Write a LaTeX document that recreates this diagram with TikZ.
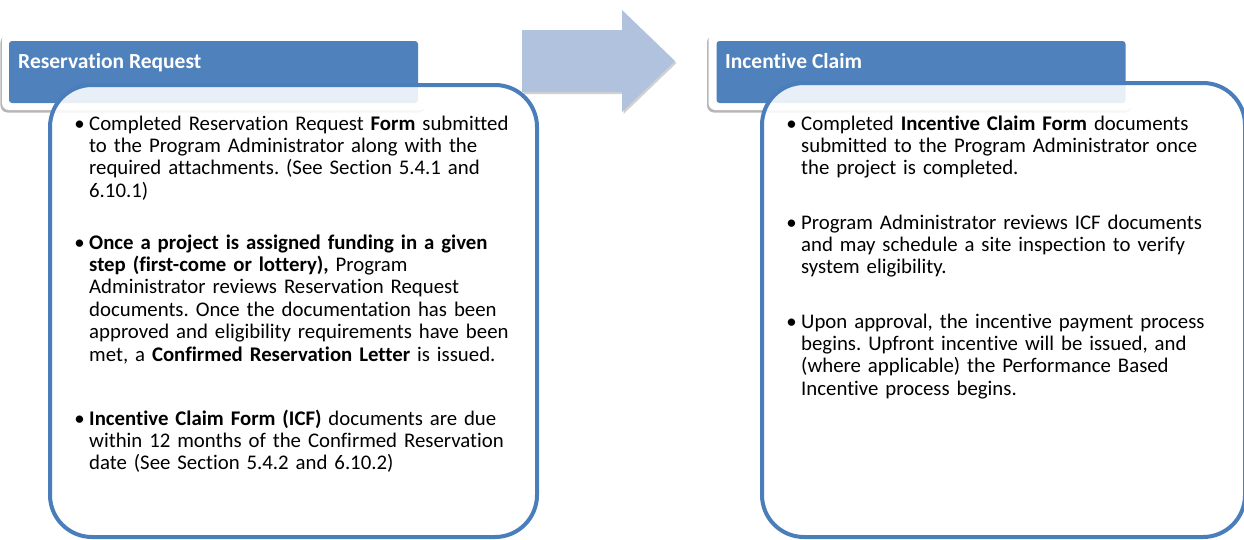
\documentclass[tikz,border=0pt]{standalone}
\usepackage{fontspec}
\setmainfont{Carlito}[Ligatures={NoCommon}]
\usetikzlibrary{shadows}
\definecolor{hdr}{HTML}{4F81BD}
\definecolor{brd}{HTML}{4A7EBB}
\definecolor{arr}{HTML}{B0C2DE}
\begin{document}
\frenchspacing
\begin{tikzpicture}[x=1pt,y=-1pt,
  outerbox/.style={fill=white, rounded corners=7pt, inner sep=0, minimum width=425pt, minimum height=77pt,
    drop shadow={shadow xshift=-1.5pt, shadow yshift=-2.5pt, opacity=0.4, fill=black!70}},
  hdrbox/.style={fill=hdr, rounded corners=3pt, inner sep=0, minimum width=409pt, minimum height=62pt},
  title/.style={anchor=base west, inner sep=0, text=white, font=\fontsize{21.5}{24}\selectfont\bfseries},
  body/.style={draw=brd, line width=4pt, fill=white, fill opacity=0.88, rounded corners=42pt},
  btext/.style={anchor=base west, inner sep=0, text width=520pt, align=left, font=\fontsize{20.8}{22.4}\selectfont},
  bul/.style={anchor=base east, inner sep=0, font=\fontsize{20.8}{22.4}\selectfont},
  arrowshape/.style={fill=arr, drop shadow={shadow xshift=1.5pt, shadow yshift=-2pt, opacity=0.3, fill=black!60}}
]
\useasboundingbox (0,0) rectangle (1244,539);

% big arrow
\path[arrowshape] (522,30) -- (622,30) -- (622,10) -- (675,61) -- (622,112) -- (622,92) -- (522,92) -- cycle;

% headers
\node[outerbox] (lout) at (214.5,71.5) {};
\node[hdrbox] (lhdr) at (213.5,72) {};
\node[title] (ltitle) at (18,68) {Reservation Request};

\node[outerbox] (rout) at (921,71.5) {};
\node[hdrbox] (rhdr) at (921,72) {};
\node[title] (rtitle) at (725,68) {Incentive Claim};

% bodies
\path[body] (50,85) rectangle (537,537);
\path[body] (762,83) rectangle (1245,537);

% left bullets
\node[bul] (lb1) at (85,130) {•};
\node[btext] (lt1) at (89,130) {Completed Reservation Request \textbf{Form} submitted\\
to the Program Administrator along with the\\
required attachments. (See Section 5.4.1 and\\
6.10.1)};
\node[bul] (lb2) at (85,249) {•};
\node[btext] (lt2) at (89,249) {\textbf{Once a project is assigned funding in a given}\\
\textbf{step (first-come or lottery),} Program\\
Administrator reviews Reservation Request\\
documents. Once the documentation has been\\
approved and eligibility requirements have been\\
met, a \textbf{Confirmed Reservation Letter} is issued.};
\node[bul] (lb3) at (85,425) {•};
\node[btext] (lt3) at (89,425) {\textbf{Incentive Claim Form (ICF)} documents are due\\
within 12 months of the Confirmed Reservation\\
date (See Section 5.4.2 and 6.10.2)};

% right bullets
\node[bul] (rb1) at (797,130) {•};
\node[btext] (rt1) at (801,130) {Completed \textbf{Incentive Claim Form} documents\\
submitted to the Program Administrator once\\
the project is completed.};
\node[bul] (rb2) at (797,229) {•};
\node[btext] (rt2) at (801,229) {Program Administrator reviews ICF documents\\
and may schedule a site inspection to verify\\
system eligibility.};
\node[bul] (rb3) at (797,328) {•};
\node[btext] (rt3) at (801,328) {Upon approval, the incentive payment process\\
begins. Upfront incentive will be issued, and\\
(where applicable) the Performance Based\\
Incentive process begins.};
\end{tikzpicture}
\end{document}
